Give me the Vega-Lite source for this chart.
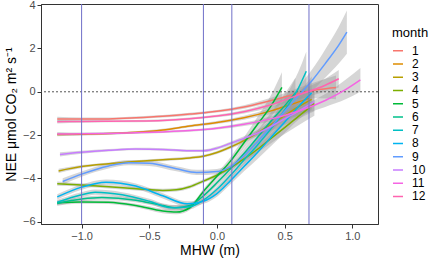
{
  "$schema": "https://vega.github.io/schema/vega-lite/v6.json",
  "width": 337,
  "height": 220,
  "autosize": "none",
  "padding": {"left": 41, "top": 4, "right": 56, "bottom": 36},
  "background": "white",
  "config": {
    "font": "Liberation Sans",
    "view": {"stroke": "#333333", "strokeWidth": 1},
    "axis": {"grid": false, "domainColor": "#333333", "tickColor": "#333333", "labelColor": "#4d4d4d", "labelFontSize": 11, "titleFontSize": 14, "titleFontWeight": "normal", "titleColor": "#000000", "tickSize": 4}
  },
  "datasets": {
    "smooth": [
      {"month":1,"x":-1.18,"y":-1.25,"lo":-1.35,"hi":-1.15},
      {"month":1,"x":-1.0,"y":-1.26,"lo":-1.33,"hi":-1.19},
      {"month":1,"x":-0.8,"y":-1.25,"lo":-1.31,"hi":-1.19},
      {"month":1,"x":-0.6,"y":-1.2,"lo":-1.26,"hi":-1.14},
      {"month":1,"x":-0.4,"y":-1.13,"lo":-1.19,"hi":-1.07},
      {"month":1,"x":-0.2,"y":-1.03,"lo":-1.09,"hi":-0.97},
      {"month":1,"x":0.0,"y":-0.9,"lo":-0.96,"hi":-0.84},
      {"month":1,"x":0.2,"y":-0.7,"lo":-0.78,"hi":-0.62},
      {"month":1,"x":0.4,"y":-0.4,"lo":-0.52,"hi":-0.28},
      {"month":1,"x":0.6,"y":-0.08,"lo":-0.33,"hi":0.17},
      {"month":1,"x":0.75,"y":0.1,"lo":-0.3,"hi":0.5},
      {"month":1,"x":0.88,"y":0.2,"lo":-0.35,"hi":0.75},

      {"month":2,"x":-1.18,"y":-1.97,"lo":-2.05,"hi":-1.89},
      {"month":2,"x":-1.0,"y":-1.96,"lo":-2.02,"hi":-1.9},
      {"month":2,"x":-0.8,"y":-1.93,"lo":-1.98,"hi":-1.88},
      {"month":2,"x":-0.6,"y":-1.87,"lo":-1.92,"hi":-1.82},
      {"month":2,"x":-0.4,"y":-1.76,"lo":-1.81,"hi":-1.71},
      {"month":2,"x":-0.2,"y":-1.58,"lo":-1.64,"hi":-1.52},
      {"month":2,"x":0.0,"y":-1.42,"lo":-1.49,"hi":-1.35},
      {"month":2,"x":0.2,"y":-1.2,"lo":-1.29,"hi":-1.11},
      {"month":2,"x":0.4,"y":-0.88,"lo":-1.03,"hi":-0.73},
      {"month":2,"x":0.55,"y":-0.58,"lo":-0.88,"hi":-0.28},
      {"month":2,"x":0.68,"y":-0.3,"lo":-0.75,"hi":0.15},

      {"month":3,"x":-1.17,"y":-3.65,"lo":-3.75,"hi":-3.55},
      {"month":3,"x":-1.0,"y":-3.45,"lo":-3.52,"hi":-3.38},
      {"month":3,"x":-0.8,"y":-3.32,"lo":-3.38,"hi":-3.26},
      {"month":3,"x":-0.6,"y":-3.22,"lo":-3.28,"hi":-3.16},
      {"month":3,"x":-0.4,"y":-3.14,"lo":-3.2,"hi":-3.08},
      {"month":3,"x":-0.2,"y":-3.05,"lo":-3.11,"hi":-2.99},
      {"month":3,"x":-0.1,"y":-2.97,"lo":-3.03,"hi":-2.91},
      {"month":3,"x":0.0,"y":-2.8,"lo":-2.87,"hi":-2.73},
      {"month":3,"x":0.1,"y":-2.55,"lo":-2.63,"hi":-2.47},
      {"month":3,"x":0.2,"y":-2.25,"lo":-2.35,"hi":-2.15},
      {"month":3,"x":0.3,"y":-1.9,"lo":-2.04,"hi":-1.76},
      {"month":3,"x":0.4,"y":-1.5,"lo":-1.7,"hi":-1.3},
      {"month":3,"x":0.5,"y":-1.1,"lo":-1.38,"hi":-0.82},
      {"month":3,"x":0.6,"y":-0.7,"lo":-1.08,"hi":-0.32},
      {"month":3,"x":0.7,"y":-0.35,"lo":-0.85,"hi":0.15},

      {"month":4,"x":-1.18,"y":-4.24,"lo":-4.34,"hi":-4.14},
      {"month":4,"x":-1.0,"y":-4.3,"lo":-4.38,"hi":-4.22},
      {"month":4,"x":-0.8,"y":-4.38,"lo":-4.46,"hi":-4.3},
      {"month":4,"x":-0.6,"y":-4.47,"lo":-4.55,"hi":-4.39},
      {"month":4,"x":-0.4,"y":-4.55,"lo":-4.63,"hi":-4.47},
      {"month":4,"x":-0.3,"y":-4.52,"lo":-4.6,"hi":-4.44},
      {"month":4,"x":-0.2,"y":-4.38,"lo":-4.46,"hi":-4.3},
      {"month":4,"x":-0.1,"y":-4.12,"lo":-4.2,"hi":-4.04},
      {"month":4,"x":0.0,"y":-3.85,"lo":-3.94,"hi":-3.76},
      {"month":4,"x":0.1,"y":-3.5,"lo":-3.6,"hi":-3.4},
      {"month":4,"x":0.2,"y":-3.1,"lo":-3.22,"hi":-2.98},
      {"month":4,"x":0.3,"y":-2.65,"lo":-2.81,"hi":-2.49},
      {"month":4,"x":0.4,"y":-2.15,"lo":-2.37,"hi":-1.93},
      {"month":4,"x":0.5,"y":-1.65,"lo":-1.95,"hi":-1.35},
      {"month":4,"x":0.6,"y":-1.15,"lo":-1.55,"hi":-0.75},
      {"month":4,"x":0.72,"y":-0.55,"lo":-1.1,"hi":0.0},

      {"month":5,"x":-1.18,"y":-5.12,"lo":-5.22,"hi":-5.02},
      {"month":5,"x":-1.0,"y":-5.08,"lo":-5.16,"hi":-5.0},
      {"month":5,"x":-0.8,"y":-5.1,"lo":-5.18,"hi":-5.02},
      {"month":5,"x":-0.6,"y":-5.25,"lo":-5.33,"hi":-5.17},
      {"month":5,"x":-0.4,"y":-5.5,"lo":-5.6,"hi":-5.4},
      {"month":5,"x":-0.3,"y":-5.55,"lo":-5.65,"hi":-5.45},
      {"month":5,"x":-0.2,"y":-5.35,"lo":-5.45,"hi":-5.25},
      {"month":5,"x":-0.1,"y":-4.6,"lo":-4.72,"hi":-4.48},
      {"month":5,"x":0.0,"y":-3.9,"lo":-4.04,"hi":-3.76},
      {"month":5,"x":0.1,"y":-3.2,"lo":-3.38,"hi":-3.02},
      {"month":5,"x":0.2,"y":-2.35,"lo":-2.6,"hi":-2.1},
      {"month":5,"x":0.3,"y":-1.5,"lo":-1.85,"hi":-1.15},
      {"month":5,"x":0.4,"y":-0.65,"lo":-1.15,"hi":-0.15},
      {"month":5,"x":0.48,"y":0.2,"lo":-0.5,"hi":0.9},

      {"month":6,"x":-1.18,"y":-5.15,"lo":-5.27,"hi":-5.03},
      {"month":6,"x":-1.0,"y":-4.95,"lo":-5.05,"hi":-4.85},
      {"month":6,"x":-0.85,"y":-4.88,"lo":-4.98,"hi":-4.78},
      {"month":6,"x":-0.6,"y":-5.0,"lo":-5.1,"hi":-4.9},
      {"month":6,"x":-0.4,"y":-5.25,"lo":-5.35,"hi":-5.15},
      {"month":6,"x":-0.3,"y":-5.35,"lo":-5.47,"hi":-5.23},
      {"month":6,"x":-0.2,"y":-5.25,"lo":-5.37,"hi":-5.13},
      {"month":6,"x":-0.1,"y":-4.8,"lo":-4.92,"hi":-4.68},
      {"month":6,"x":0.0,"y":-4.2,"lo":-4.34,"hi":-4.06},
      {"month":6,"x":0.1,"y":-3.55,"lo":-3.72,"hi":-3.38},
      {"month":6,"x":0.2,"y":-2.85,"lo":-3.07,"hi":-2.63},
      {"month":6,"x":0.3,"y":-2.1,"lo":-2.4,"hi":-1.8},
      {"month":6,"x":0.4,"y":-1.35,"lo":-1.75,"hi":-0.95},
      {"month":6,"x":0.5,"y":-0.65,"lo":-1.2,"hi":-0.1},
      {"month":6,"x":0.58,"y":-0.05,"lo":-0.75,"hi":0.65},

      {"month":7,"x":-1.18,"y":-5.1,"lo":-5.22,"hi":-4.98},
      {"month":7,"x":-1.0,"y":-4.75,"lo":-4.87,"hi":-4.63},
      {"month":7,"x":-0.9,"y":-4.63,"lo":-4.75,"hi":-4.51},
      {"month":7,"x":-0.7,"y":-4.75,"lo":-4.87,"hi":-4.63},
      {"month":7,"x":-0.5,"y":-5.05,"lo":-5.17,"hi":-4.93},
      {"month":7,"x":-0.34,"y":-5.35,"lo":-5.47,"hi":-5.23},
      {"month":7,"x":-0.2,"y":-5.3,"lo":-5.42,"hi":-5.18},
      {"month":7,"x":-0.1,"y":-5.0,"lo":-5.12,"hi":-4.88},
      {"month":7,"x":0.0,"y":-4.5,"lo":-4.64,"hi":-4.36},
      {"month":7,"x":0.1,"y":-3.85,"lo":-4.02,"hi":-3.68},
      {"month":7,"x":0.2,"y":-3.15,"lo":-3.37,"hi":-2.93},
      {"month":7,"x":0.3,"y":-2.45,"lo":-2.75,"hi":-2.15},
      {"month":7,"x":0.4,"y":-1.7,"lo":-2.1,"hi":-1.3},
      {"month":7,"x":0.5,"y":-0.85,"lo":-1.4,"hi":-0.3},
      {"month":7,"x":0.6,"y":0.15,"lo":-0.6,"hi":0.9},
      {"month":7,"x":0.66,"y":0.95,"lo":0.05,"hi":1.85},

      {"month":8,"x":-1.18,"y":-4.85,"lo":-4.97,"hi":-4.73},
      {"month":8,"x":-1.0,"y":-4.4,"lo":-4.52,"hi":-4.28},
      {"month":8,"x":-0.82,"y":-4.17,"lo":-4.29,"hi":-4.05},
      {"month":8,"x":-0.6,"y":-4.35,"lo":-4.47,"hi":-4.23},
      {"month":8,"x":-0.4,"y":-4.8,"lo":-4.92,"hi":-4.68},
      {"month":8,"x":-0.22,"y":-5.17,"lo":-5.29,"hi":-5.05},
      {"month":8,"x":-0.1,"y":-5.05,"lo":-5.17,"hi":-4.93},
      {"month":8,"x":0.0,"y":-4.7,"lo":-4.84,"hi":-4.56},
      {"month":8,"x":0.1,"y":-4.1,"lo":-4.27,"hi":-3.93},
      {"month":8,"x":0.2,"y":-3.45,"lo":-3.67,"hi":-3.23},
      {"month":8,"x":0.3,"y":-2.8,"lo":-3.1,"hi":-2.5},
      {"month":8,"x":0.4,"y":-2.1,"lo":-2.5,"hi":-1.7},
      {"month":8,"x":0.5,"y":-1.4,"lo":-1.9,"hi":-0.9},
      {"month":8,"x":0.6,"y":-0.7,"lo":-1.3,"hi":-0.1},
      {"month":8,"x":0.7,"y":-0.05,"lo":-0.8,"hi":0.7},

      {"month":9,"x":-1.14,"y":-4.14,"lo":-4.29,"hi":-3.99},
      {"month":9,"x":-1.0,"y":-3.8,"lo":-3.92,"hi":-3.68},
      {"month":9,"x":-0.8,"y":-3.42,"lo":-3.54,"hi":-3.3},
      {"month":9,"x":-0.65,"y":-3.27,"lo":-3.39,"hi":-3.15},
      {"month":9,"x":-0.5,"y":-3.3,"lo":-3.42,"hi":-3.18},
      {"month":9,"x":-0.3,"y":-3.55,"lo":-3.67,"hi":-3.43},
      {"month":9,"x":-0.15,"y":-3.72,"lo":-3.84,"hi":-3.6},
      {"month":9,"x":0.0,"y":-3.68,"lo":-3.8,"hi":-3.56},
      {"month":9,"x":0.1,"y":-3.45,"lo":-3.58,"hi":-3.32},
      {"month":9,"x":0.2,"y":-2.95,"lo":-3.1,"hi":-2.8},
      {"month":9,"x":0.3,"y":-2.3,"lo":-2.5,"hi":-2.1},
      {"month":9,"x":0.4,"y":-1.6,"lo":-1.85,"hi":-1.35},
      {"month":9,"x":0.5,"y":-0.9,"lo":-1.22,"hi":-0.58},
      {"month":9,"x":0.6,"y":-0.2,"lo":-0.6,"hi":0.2},
      {"month":9,"x":0.7,"y":0.5,"lo":0.0,"hi":1.0},
      {"month":9,"x":0.8,"y":1.3,"lo":0.65,"hi":1.95},
      {"month":9,"x":0.9,"y":2.15,"lo":1.3,"hi":3.0},
      {"month":9,"x":0.96,"y":2.75,"lo":1.75,"hi":3.75},

      {"month":10,"x":-1.16,"y":-2.89,"lo":-2.99,"hi":-2.79},
      {"month":10,"x":-1.0,"y":-2.79,"lo":-2.86,"hi":-2.72},
      {"month":10,"x":-0.8,"y":-2.7,"lo":-2.76,"hi":-2.64},
      {"month":10,"x":-0.6,"y":-2.64,"lo":-2.7,"hi":-2.58},
      {"month":10,"x":-0.4,"y":-2.66,"lo":-2.72,"hi":-2.6},
      {"month":10,"x":-0.2,"y":-2.72,"lo":-2.78,"hi":-2.66},
      {"month":10,"x":-0.1,"y":-2.72,"lo":-2.78,"hi":-2.66},
      {"month":10,"x":0.0,"y":-2.6,"lo":-2.67,"hi":-2.53},
      {"month":10,"x":0.1,"y":-2.38,"lo":-2.46,"hi":-2.3},
      {"month":10,"x":0.2,"y":-2.15,"lo":-2.25,"hi":-2.05},
      {"month":10,"x":0.3,"y":-1.9,"lo":-2.04,"hi":-1.76},
      {"month":10,"x":0.4,"y":-1.6,"lo":-1.8,"hi":-1.4},
      {"month":10,"x":0.5,"y":-1.25,"lo":-1.52,"hi":-0.98},
      {"month":10,"x":0.6,"y":-0.9,"lo":-1.25,"hi":-0.55},
      {"month":10,"x":0.72,"y":-0.45,"lo":-0.9,"hi":0.0},

      {"month":11,"x":-1.18,"y":-1.95,"lo":-2.03,"hi":-1.87},
      {"month":11,"x":-1.0,"y":-1.94,"lo":-2.0,"hi":-1.88},
      {"month":11,"x":-0.8,"y":-1.92,"lo":-1.97,"hi":-1.87},
      {"month":11,"x":-0.6,"y":-1.89,"lo":-1.94,"hi":-1.84},
      {"month":11,"x":-0.4,"y":-1.85,"lo":-1.9,"hi":-1.8},
      {"month":11,"x":-0.2,"y":-1.79,"lo":-1.84,"hi":-1.74},
      {"month":11,"x":0.0,"y":-1.68,"lo":-1.74,"hi":-1.62},
      {"month":11,"x":0.2,"y":-1.5,"lo":-1.58,"hi":-1.42},
      {"month":11,"x":0.4,"y":-1.25,"lo":-1.37,"hi":-1.13},
      {"month":11,"x":0.6,"y":-0.9,"lo":-1.1,"hi":-0.7},
      {"month":11,"x":0.8,"y":-0.4,"lo":-0.7,"hi":-0.1},
      {"month":11,"x":0.95,"y":0.1,"lo":-0.35,"hi":0.55},
      {"month":11,"x":1.06,"y":0.55,"lo":0.0,"hi":1.1},

      {"month":12,"x":-1.18,"y":-1.38,"lo":-1.46,"hi":-1.3},
      {"month":12,"x":-1.0,"y":-1.37,"lo":-1.43,"hi":-1.31},
      {"month":12,"x":-0.8,"y":-1.36,"lo":-1.41,"hi":-1.31},
      {"month":12,"x":-0.6,"y":-1.35,"lo":-1.4,"hi":-1.3},
      {"month":12,"x":-0.4,"y":-1.32,"lo":-1.37,"hi":-1.27},
      {"month":12,"x":-0.2,"y":-1.24,"lo":-1.29,"hi":-1.19},
      {"month":12,"x":0.0,"y":-1.12,"lo":-1.18,"hi":-1.06},
      {"month":12,"x":0.2,"y":-0.92,"lo":-1.0,"hi":-0.84},
      {"month":12,"x":0.4,"y":-0.6,"lo":-0.72,"hi":-0.48},
      {"month":12,"x":0.6,"y":-0.15,"lo":-0.35,"hi":0.05},
      {"month":12,"x":0.8,"y":0.3,"lo":0.0,"hi":0.6},
      {"month":12,"x":0.9,"y":0.6,"lo":0.2,"hi":1.0}
    ],
    "vlines": [{"v": -1.0}, {"v": -0.1}, {"v": 0.11}, {"v": 0.68}],
    "zero": [{"h": 0}]
  },
  "layer": [
    {
      "data": {"name": "smooth"},
      "mark": {"type": "area", "color": "#999999", "opacity": 0.4, "interpolate": "monotone"},
      "encoding": {
        "x": {"field": "x", "type": "quantitative", "scale": {"domain": [-1.3, 1.19], "nice": false, "zero": false},
              "axis": {"title": "MHW (m)", "values": [-1, -0.5, 0, 0.5, 1], "format": ".1f", "labelPadding": 2, "titlePadding": 2}},
        "y": {"field": "lo", "type": "quantitative", "scale": {"domain": [-6.1, 4.05], "nice": false, "zero": false},
              "axis": {"title": "NEE μmol CO₂ m² s⁻¹", "values": [-6, -4, -2, 0, 2, 4], "format": "d", "labelPadding": 2, "titlePadding": 4}},
        "y2": {"field": "hi"},
        "detail": {"field": "month", "type": "nominal"}
      }
    },
    {
      "data": {"name": "zero"},
      "mark": {"type": "rule", "color": "#555555", "strokeDash": [2, 2], "strokeWidth": 1},
      "encoding": {"y": {"field": "h", "type": "quantitative"}}
    },
    {
      "data": {"name": "smooth"},
      "mark": {"type": "line", "strokeWidth": 1.5, "interpolate": "monotone"},
      "encoding": {
        "x": {"field": "x", "type": "quantitative"},
        "y": {"field": "y", "type": "quantitative"},
        "color": {
          "field": "month", "type": "ordinal",
          "scale": {"domain": [1,2,3,4,5,6,7,8,9,10,11,12],
                    "range": ["#F8766D","#DE8C00","#B79F00","#7CAE00","#00BA38","#00C08B","#00BFC4","#00B4F0","#619CFF","#C77CFF","#F564E3","#FF64B0"]},
          "legend": {"title": "month", "orient": "none", "legendX": 351, "legendY": 23,
                     "titleFontSize": 13, "titleFontWeight": "normal", "titleColor": "#000000",
                     "labelFontSize": 12, "labelColor": "#000000",
                     "symbolType": "stroke", "symbolStrokeWidth": 1.5, "symbolSize": 100,
                     "clipHeight": 11.25, "rowPadding": 0.25, "titlePadding": 5, "labelOffset": 8}
        }
      }
    },
    {
      "data": {"name": "vlines"},
      "mark": {"type": "rule", "color": "#7070c8", "strokeWidth": 1},
      "encoding": {"x": {"field": "v", "type": "quantitative"}}
    }
  ]
}
